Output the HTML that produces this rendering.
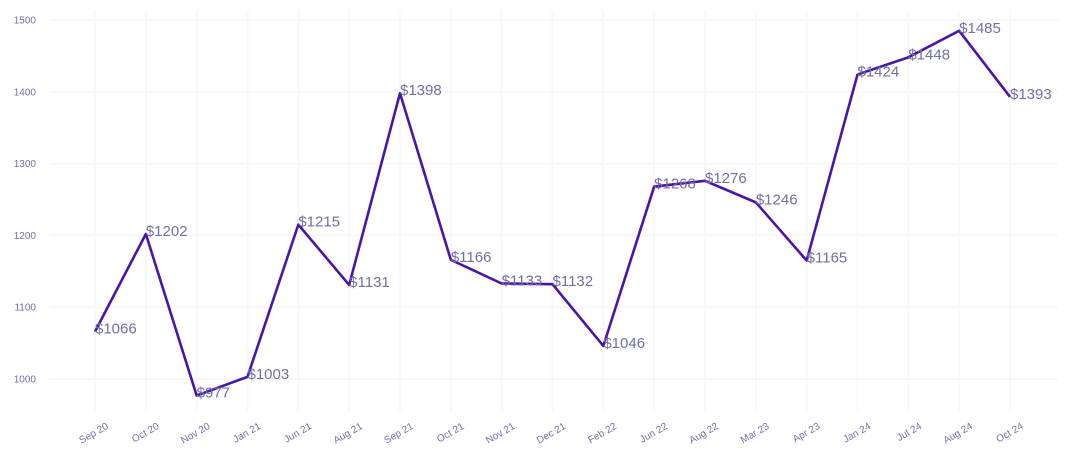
<!DOCTYPE html>
<html><head><meta charset="utf-8"><style>
html,body{margin:0;padding:0;background:#fff;}
svg{display:block;font-family:"Liberation Sans",sans-serif;}
</style></head><body>
<svg id="chart" width="1070" height="464" viewBox="0 0 1070 464">
<g id="grid"></g>
<g id="yaxis"></g>
<g id="xaxis"></g>
<g id="series"></g>
</svg>
<script>
const categories=["Sep 20","Oct 20","Nov 20","Jan 21","Jun 21","Aug 21","Sep 21","Oct 21","Nov 21","Dec 21","Feb 22","Jun 22","Aug 22","Mar 23","Apr 23","Jan 24","Jul 24","Aug 24","Oct 24"];
const values=[1066,1202,977,1003,1215,1131,1398,1166,1133,1132,1046,1268,1276,1246,1165,1424,1448,1485,1393];
const yTicks=[1000,1100,1200,1300,1400,1500];
const NS="http://www.w3.org/2000/svg";
function x(i){return 95+i*(1010-95)/(categories.length-1);}
function y(v){return 379-(v-1000)*(379-20)/500;}
function mk(tag,attrs,parent,text){const e=document.createElementNS(NS,tag);for(const k in attrs)e.setAttribute(k,attrs[k]);if(text!==undefined)e.textContent=text;parent.appendChild(e);return e;}
const grid=document.getElementById('grid'),ya=document.getElementById('yaxis'),xa=document.getElementById('xaxis'),se=document.getElementById('series');
yTicks.forEach(t=>{
  const l=mk('line',{x1:50,x2:1058,y1:y(t),y2:y(t),stroke:'#f7f7fd','stroke-width':2},grid);
  
  
  const tx=mk('text',{x:36,y:y(t)+3.5,'text-anchor':'end','font-size':10,fill:'#7070a8'},ya,String(t));
  
  
});
categories.forEach((c,i)=>{
  const l=mk('line',{x1:x(i),x2:x(i),y1:10,y2:411,stroke:'#f7f7fd','stroke-width':2},grid);
  
  
  const tx=mk('text',{x:x(i)+14,y:428,'text-anchor':'end','font-size':10,fill:'#7070a8',transform:`rotate(-30 ${x(i)+14} 428)`},xa,c);
  
  
});
const p=mk('polyline',{points:values.map((v,i)=>x(i)+','+y(v)).join(' '),fill:'none',stroke:'#4a14a8','stroke-width':2.6,'stroke-linejoin':'round'},se);


values.forEach((v,i)=>{
  const tx=mk('text',{x:x(i),y:y(v)+2,'font-size':15,fill:'#7070a8'},se,'$'+v);
  
  
});
</script>
</body></html>
